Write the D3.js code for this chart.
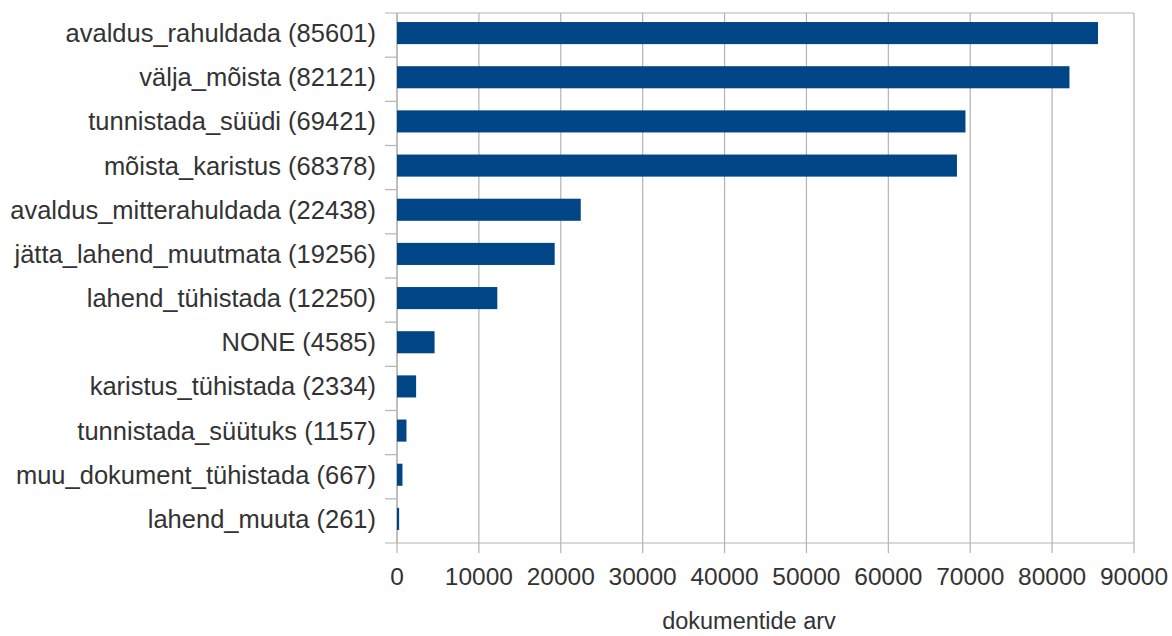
<!DOCTYPE html>
<html lang="et">
<head>
    <meta charset="UTF-8">
    <title>dokumentide arv</title>
    <script src="https://d3js.org/d3.v7.min.js"></script>
    <style>
        body { margin: 0; background: #fff; }
        text { font-family: "Liberation Sans", Arial, sans-serif; fill: #333; }
    </style>
</head>
<body>
    <div class="chart"></div>
    <script>
        // andmed
        const categories = [
            "avaldus_rahuldada", "välja_mõista", "tunnistada_süüdi", "mõista_karistus",
            "avaldus_mitterahuldada", "jätta_lahend_muutmata", "lahend_tühistada", "NONE",
            "karistus_tühistada", "tunnistada_süütuks", "muu_dokument_tühistada", "lahend_muuta"
        ];
        const counts = [85601, 82121, 69421, 68378, 22438, 19256, 12250, 4585, 2334, 1157, 667, 261];
        const xTicks = [0, 10000, 20000, 30000, 40000, 50000, 60000, 70000, 80000, 90000];
        const xTitle = "dokumentide arv";

        const w = 1172, h = 636;
        const margin = { top: 13, right: 38, bottom: 93, left: 397 };
        const gridColor = "#b3b3b3";

        const svg = d3.select(".chart").append("svg").attr("width", w).attr("height", h);

        const x = d3.scaleLinear().domain([0, 90000]).range([margin.left, w - margin.right]);
        const y = d3.scaleBand().domain(categories).range([margin.top, h - margin.bottom]).paddingInner(0.5).paddingOuter(0.25);
        const band = d3.scaleBand().domain(categories).range([margin.top, h - margin.bottom]);

        // vertikaalsed abijooned
        svg.append("g").selectAll("line").data(xTicks).enter().append("line")
            .attr("x1", d => x(d)).attr("x2", d => x(d))
            .attr("y1", margin.top).attr("y2", h - margin.bottom + 10)
            .attr("stroke", gridColor).attr("stroke-width", 1.2);

        // ülemine ja alumine joon
        [margin.top, h - margin.bottom].forEach(yy => {
            svg.append("line")
                .attr("x1", margin.left - 12).attr("x2", x(90000))
                .attr("y1", yy).attr("y2", yy)
                .attr("stroke", gridColor).attr("stroke-width", 1.2);
        });

        // y-telje kriipsud kategooriate piiridel
        svg.append("g").selectAll("line").data(categories.slice(1)).enter().append("line")
            .attr("x1", margin.left - 12).attr("x2", margin.left)
            .attr("y1", d => band(d)).attr("y2", d => band(d))
            .attr("stroke", gridColor).attr("stroke-width", 1.2);
        svg.append("line")
            .attr("x1", margin.left).attr("x2", margin.left)
            .attr("y1", margin.top).attr("y2", h - margin.bottom)
            .attr("stroke", gridColor).attr("stroke-width", 1.2);

        // tulbad
        svg.append("g").selectAll("rect").data(categories).enter().append("rect")
            .attr("x", x(0))
            .attr("y", d => y(d) - 2)
            .attr("width", (d, i) => x(counts[i]) - x(0))
            .attr("height", y.bandwidth())
            .attr("fill", "#004586");

        // kategooriate sildid
        svg.append("g").selectAll("text").data(categories).enter().append("text")
            .attr("x", margin.left - 21)
            .attr("y", d => band(d) + band.bandwidth() / 2 - 2)
            .attr("dy", "0.35em")
            .attr("text-anchor", "end")
            .style("font-size", "25.5px")
            .text((d, i) => `${d} (${counts[i]})`);

        // x-telje sildid
        svg.append("g").selectAll("text").data(xTicks).enter().append("text")
            .attr("x", d => x(d))
            .attr("y", 585)
            .attr("text-anchor", "middle")
            .style("font-size", "24.5px")
            .text(d => d);

        svg.append("text")
            .attr("x", 749)
            .attr("y", 629)
            .attr("text-anchor", "middle")
            .style("font-size", "23.5px")
            .text(xTitle);
    </script>
</body>
</html>
